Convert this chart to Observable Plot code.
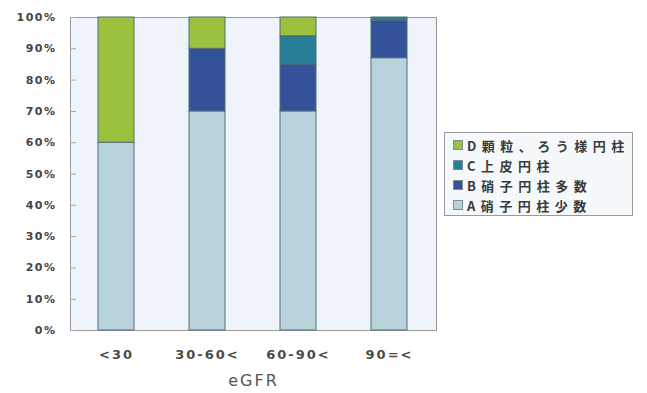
<!DOCTYPE html>
<html>
<head>
<meta charset="utf-8">
<script src="https://cdn.jsdelivr.net/npm/d3@7"></script>
<script src="https://cdn.jsdelivr.net/npm/@observablehq/plot@0.6"></script>
<style>
  html, body { margin: 0; padding: 0; background: #fff; }
  #wrap { position: relative; width: 647px; height: 393px; font-family: "DejaVu Sans", "Noto Sans CJK JP", sans-serif; }
  #legend { position: absolute; left: 444px; top: 132px; width: 189px; height: 84px; box-sizing: border-box;
            border: 1px solid #9a9a9a; background: #f6f9fb; padding: 2px 0 0 8px; }
  .item { display: flex; align-items: center; height: 20px; font-family: "Noto Sans CJK JP", sans-serif;
          font-size: 13px; font-weight: bold; color: #3a3a3a; letter-spacing: 5.5px; white-space: nowrap; }
  .sw { width: 8px; height: 8px; border: 1px solid #7d8c92; margin-right: 4px; flex: none; }
</style>
</head>
<body>
<div id="wrap"><div id="chart"></div><div id="legend"></div></div>
<script>
const categories = ["<30", "30-60<", "60-90<", "90=<"];
const series = ["A硝子円柱少数", "B硝子円柱多数", "C上皮円柱", "D顆粒、ろう様円柱"];
const valuesA = [60, 70, 70, 87];
const valuesB = [0, 20, 15, 12];
const valuesC = [0, 0, 9, 1];
const valuesD = [40, 10, 6, 0];
const colors = ["#b9d3dc", "#34529a", "#267e98", "#9cc13e"];
const yTicks = [0, 10, 20, 30, 40, 50, 60, 70, 80, 90, 100];
const xTitle = "eGFR";

const seriesValues = [valuesA, valuesB, valuesC, valuesD];
const data = [];
categories.forEach((c, i) => {
  series.forEach((s, j) => {
    data.push({cat: c, series: s, value: seriesValues[j][i]});
  });
});

const chart = Plot.plot({
  width: 647,
  height: 393,
  marginLeft: 70,
  marginRight: 211,
  marginTop: 17,
  marginBottom: 63,
  style: {fontFamily: "DejaVu Sans, Noto Sans CJK JP, sans-serif", background: "transparent"},
  x: {domain: categories, paddingInner: 0.6, paddingOuter: 0.3, label: null},
  y: {domain: [0, 100], label: null},
  color: {domain: series, range: colors},
  marks: [
    Plot.frame({fill: "#eef4fa", stroke: "#9a9a9a"}),
    Plot.barY(data, {x: "cat", y: "value", fill: "series", stroke: "#556b75", strokeWidth: 1}),
    Plot.axisY(yTicks, {tickSize: 0, tickPadding: 14, tickFormat: d => d + "%", fontSize: 11, fontWeight: "bold", fill: "#444"}),
    Plot.axisY(yTicks, {tickSize: 6, dx: 6, tickFormat: () => "", stroke: "#a8a8a8"}),
    Plot.axisX({tickSize: 0, tickPadding: 19, fontSize: 13, fontWeight: 600, fill: "#4a4a4a"}),
    Plot.text([xTitle], {frameAnchor: "bottom", dy: 55, fontSize: 16, fill: "#555", text: d => d})
  ]
});
document.getElementById("chart").appendChild(chart);

d3.select(chart).selectAll('[aria-label="y-axis tick label"] text').attr("letter-spacing", "1.5");
d3.select(chart).selectAll('[aria-label="x-axis tick label"] text').attr("letter-spacing", "2");
d3.select(chart).selectAll('[aria-label="text"] text').attr("letter-spacing", "2");

const legend = document.getElementById("legend");
[...series].reverse().forEach(s => {
  const row = document.createElement("div");
  row.className = "item";
  const sw = document.createElement("span");
  sw.className = "sw";
  sw.style.background = colors[series.indexOf(s)];
  row.appendChild(sw);
  row.appendChild(document.createTextNode(s));
  legend.appendChild(row);
});
</script>
</body>
</html>
